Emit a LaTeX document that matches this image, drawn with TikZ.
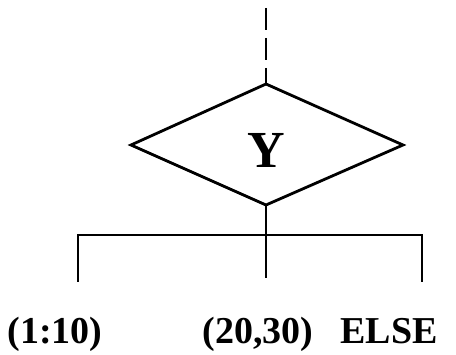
\documentclass[tikz,border=0pt]{standalone}
\usepackage{fontspec}
\setmainfont{Liberation Serif}
\begin{document}
\begin{tikzpicture}[x=1pt,y=-1pt,
  ln/.style={line width=2.8pt},
  lbl/.style={font=\fontsize{38}{40}\selectfont\bfseries, inner sep=0pt, anchor=base}]
\useasboundingbox (0,0) rectangle (456,355);
\coordinate (top) at (266,8);
\coordinate (dt) at (266,84);
\coordinate (dl) at (131,145);
\coordinate (dr) at (403,145);
\coordinate (db) at (266,205);
\coordinate (hc) at (266,235);
\coordinate (hl) at (78,235);
\coordinate (hr) at (422,235);
\coordinate (el) at (78,282);
\coordinate (ec) at (266,278);
\coordinate (er) at (422,282);
\draw[ln, dash pattern=on 22pt off 8pt] (top) -- (dt);
\draw[ln, line join=miter] (dt) -- (dr) -- (db) -- (dl) -- cycle;
\node[font=\fontsize{52}{54}\selectfont\bfseries, inner sep=0pt] (y) at (266,150) {Y};
\draw[ln] (db) -- (ec);
\draw[ln] (el) -- (hl) -- (hr) -- (er);
\node[lbl] (l1) at (55,344) {(1:10)};
\node[lbl] (l2) at (258,344) {(20,30)};
\node[lbl] (l3) at (389,344) {ELSE};
\end{tikzpicture}
\end{document}
